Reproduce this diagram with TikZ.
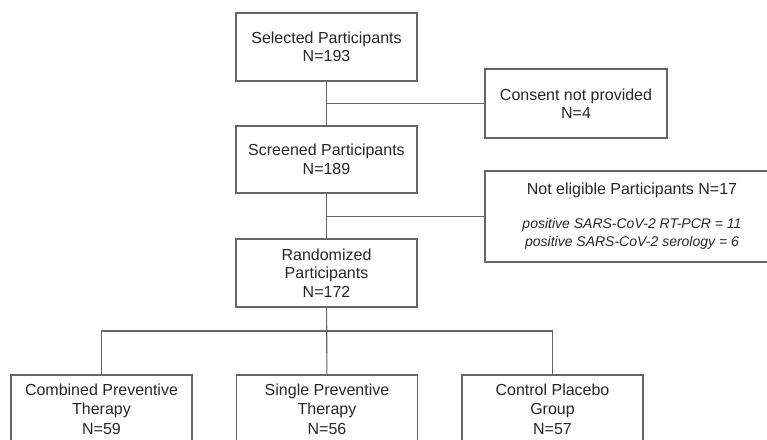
\documentclass[tikz,border=0pt]{standalone}
\usepackage{fontspec}
\setmainfont{Liberation Sans}
\usepackage{tikz}
\usetikzlibrary{positioning}
\newcommand{\Detail}[1]{{\fontsize{14}{18}\selectfont\itshape #1}}

\begin{document}
\begin{tikzpicture}[x=1pt,y=1pt,thick,
		base node/.style={rectangle,draw=black!60,line width=1.1pt,text=black!85,
			align=center,minimum width=181pt,minimum height=68pt,inner sep=2pt,
			font=\fontsize{16}{18.5}\selectfont},
		wide node/.style={base node,minimum width=294pt,minimum height=91pt},
		group node/.style={base node,font=\fontsize{16}{19.5}\selectfont},
		line/.style={draw=black!60,line width=1.1pt}]
		\useasboundingbox (0,0) rectangle (767,439);
		\clip (0,0) rectangle (767,439);
		
		\node[base node] (sel) at (326.5,392) {Selected Participants\\N=193};
		\node[base node,minimum width=182pt,minimum height=69pt] (consent) at (576,335.5) {Consent not provided\\N=4};
		\node[base node,minimum height=67pt] (scr) at (326.5,279.5) {Screened Participants\\N=189};
		\node[wide node] (notel) at (632,222.5) {Not eligible Participants N=17\\[15pt]
			\Detail{positive SARS-CoV-2 RT-PCR = 11}\\
			\Detail{positive SARS-CoV-2 serology = 6}};
		\node[base node] (rand) at (326.5,166) {Randomized\\Participants\\N=172};
		
		\node[group node] (comb) at (101.5,30) {Combined Preventive\\Therapy\\N=59};
		\node[group node] (single) at (327,30) {Single Preventive\\Therapy\\N=56};
		\node[group node] (ctrl) at (552.5,30) {Control Placebo\\Group\\N=57};
		\coordinate (bar) at (327,108);
		
		\path[line]
		(sel) edge (scr)
		(scr) edge (rand)
		(sel.south |- consent) edge (consent)
		(scr.south |- notel) edge (notel)
		(rand) edge (single);
		\draw[line] (comb.north) |- (bar) -| (ctrl.north);
		
		\end{tikzpicture}
\end{document}
